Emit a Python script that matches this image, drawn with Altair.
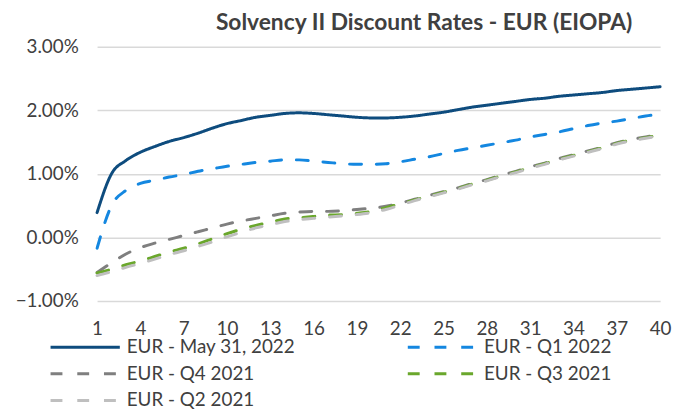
import altair as alt
import pandas as pd

maturity = list(range(1, 41))

may_31_2022 = [0.39, 1.00, 1.21, 1.34, 1.43, 1.51, 1.57, 1.64, 1.72, 1.79,
               1.84, 1.89, 1.92, 1.95, 1.96, 1.95, 1.93, 1.91, 1.89, 1.88,
               1.88, 1.89, 1.91, 1.94, 1.97, 2.01, 2.05, 2.08, 2.11, 2.14,
               2.17, 2.19, 2.22, 2.24, 2.26, 2.28, 2.31, 2.33, 2.35, 2.37]
q1_2022 = [-0.17, 0.50, 0.74, 0.85, 0.90, 0.95, 0.99, 1.04, 1.08, 1.12,
           1.15, 1.18, 1.20, 1.22, 1.22, 1.20, 1.18, 1.16, 1.15, 1.15,
           1.16, 1.19, 1.23, 1.27, 1.32, 1.37, 1.41, 1.45, 1.49, 1.53,
           1.58, 1.62, 1.66, 1.71, 1.76, 1.80, 1.83, 1.87, 1.91, 1.94]
q4_2021 = [-0.55, -0.40, -0.26, -0.16, -0.09, -0.03, 0.03, 0.09, 0.15, 0.21,
           0.26, 0.30, 0.34, 0.38, 0.40, 0.41, 0.41, 0.42, 0.44, 0.46,
           0.49, 0.54, 0.60, 0.66, 0.72, 0.78, 0.85, 0.91, 0.98, 1.04,
           1.11, 1.17, 1.24, 1.30, 1.36, 1.42, 1.49, 1.54, 1.58, 1.62]
q3_2021 = [-0.56, -0.50, -0.43, -0.37, -0.30, -0.23, -0.17, -0.10, -0.02, 0.06,
           0.13, 0.19, 0.24, 0.29, 0.31, 0.33, 0.35, 0.36, 0.38, 0.41,
           0.47, 0.53, 0.59, 0.65, 0.71, 0.77, 0.84, 0.90, 0.97, 1.03,
           1.10, 1.16, 1.23, 1.29, 1.35, 1.41, 1.48, 1.53, 1.57, 1.61]
q2_2021 = [-0.60, -0.54, -0.47, -0.41, -0.34, -0.27, -0.21, -0.14, -0.07, 0.01,
           0.08, 0.15, 0.20, 0.25, 0.28, 0.30, 0.32, 0.34, 0.36, 0.39,
           0.44, 0.51, 0.58, 0.64, 0.70, 0.76, 0.83, 0.89, 0.96, 1.02,
           1.09, 1.15, 1.22, 1.28, 1.34, 1.40, 1.47, 1.52, 1.56, 1.60]

series_names = ["EUR - May 31, 2022", "EUR - Q1 2022", "EUR - Q4 2021",
                "EUR - Q3 2021", "EUR - Q2 2021"]
series_values = [may_31_2022, q1_2022, q4_2021, q3_2021, q2_2021]
series_colors = ["#0E4C7E", "#1487E0", "#7F7F7F", "#6AA72C", "#BFBFBF"]
series_dashes = [[1, 0], [12, 15], [12, 15], [12, 15], [12, 15]]

x_ticks = [1, 4, 7, 10, 13, 16, 19, 22, 25, 28, 31, 34, 37, 40]
y_ticks = [-0.01, 0.0, 0.01, 0.02, 0.03]

rows = []
for name, vals in zip(series_names, series_values):
    for m, v in zip(maturity, vals):
        rows.append({"maturity": m, "rate": v / 100.0, "series": name})
df = pd.DataFrame(rows)

FONT = "Lato"
TEXT = "#404040"

legend = alt.Legend(
    title=None,
    orient="none",
    direction="horizontal",
    legendX=-47,
    legendY=292,
    columns=2,
    columnPadding=107,
    rowPadding=5,
    symbolType="M-1.15,0H5.85",
    symbolSize=400,
    symbolStrokeWidth=3,
    labelOffset=54,
    labelFont=FONT,
    labelFontSize=19,
    labelColor=TEXT,
    labelLimit=400,
)

chart = alt.Chart(df).mark_line(
    strokeWidth=3, strokeCap="round", interpolate="monotone"
).encode(
    x=alt.X("maturity:Q",
            scale=alt.Scale(domain=[1, 40], nice=False, zero=False),
            axis=alt.Axis(values=x_ticks, title=None, grid=False, domain=False,
                          ticks=False, labelPadding=19, labelFont=FONT,
                          labelFontSize=19, labelColor=TEXT, labelFlush=False)),
    y=alt.Y("rate:Q",
            scale=alt.Scale(domain=[-0.01, 0.03], nice=False, zero=False),
            axis=alt.Axis(values=y_ticks, format=".2%", title=None, domain=False,
                          ticks=False, labelPadding=19, labelFont=FONT,
                          labelFontSize=19, labelColor=TEXT,
                          gridColor="#D9D9D9", gridWidth=1.5)),
    color=alt.Color("series:N",
                    scale=alt.Scale(domain=series_names, range=series_colors),
                    sort=series_names, legend=legend),
    strokeDash=alt.StrokeDash("series:N",
                              scale=alt.Scale(domain=series_names, range=series_dashes),
                              sort=series_names, legend=legend),
).properties(
    width=569,
    height=257,
    title=alt.Title("Solvency II Discount Rates - EUR (EIOPA)", font=FONT,
                    fontSize=23, fontWeight="bold", color=TEXT,
                    anchor="middle", dx=46, offset=3),
    autosize=alt.AutoSizeParams(type="none"),
    padding={"left": 90, "top": 37, "right": 12, "bottom": 107},
).configure_view(stroke=None)

chart.save("out.html", embed_options={"renderer": "svg", "actions": False})
